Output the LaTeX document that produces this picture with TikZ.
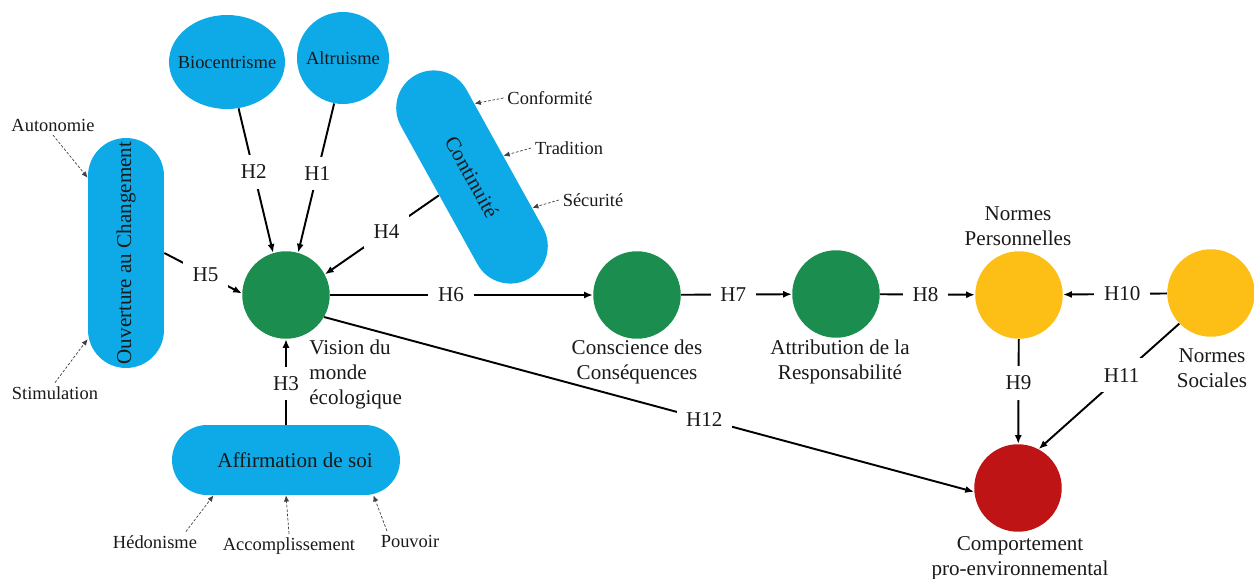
\documentclass[tikz,border=0pt]{standalone}
\usepackage{fontspec}
\setmainfont{Liberation Serif}
\usepackage{color}
\usepackage{tikz}
\usetikzlibrary{arrows.meta,shapes.geometric}
\definecolor{bleu}{RGB}{14,170,231}
\definecolor{vert}{RGB}{26,141,79}
\definecolor{jaune}{RGB}{253,190,22}
\definecolor{rouge}{RGB}{190,20,22}

\begin{document}
\begin{tikzpicture}[x=0.02cm,y=-0.02cm]
      \tikzstyle{every node}=[font=\fontsize{12}{14.2}\selectfont,text=black!90]
      \tikzstyle{blob}=[shape=ellipse,fill=bleu,inner sep=0pt,font=\fontsize{10.5}{12}\selectfont]
      \tikzstyle{stade}=[shape=rectangle,fill=bleu,inner sep=0pt]
      \tikzstyle{rond}=[shape=circle,minimum size=1.75cm,inner sep=0pt]
      \tikzstyle{hyp}=[fill=white,inner sep=5.5pt]
      \tikzstyle{val}=[font=\fontsize{10.5}{12}\selectfont,inner sep=2pt]
      \tikzstyle{lbl}=[align=center,inner sep=0pt]
      \tikzstyle{hfl}=[-{Latex[length=5pt,width=4pt]},line width=1.1pt]
      \tikzstyle{pointil}=[-{Latex[length=3.5pt,width=3pt]},line width=0.4pt,dash pattern=on 1.5pt off 1pt,black!75]
      \useasboundingbox (0,0) rectangle (1254,578);

      \node[blob,minimum width=2.32cm,minimum height=1.88cm] (bio) at (227,62) {\makebox[0pt]{Biocentrisme}};
      \node[blob,minimum size=1.84cm] (alt) at (343,58) {\makebox[0pt]{Altruisme}};
      \node[stade,rounded corners=0.76cm,minimum width=4.6cm,minimum height=1.52cm,rotate=90] (ouv) at (126,253) {Ouverture au Changement};
      \node[stade,rounded corners=0.75cm,minimum width=4.66cm,minimum height=1.5cm,rotate=-61] (cont) at (472,177) {Continuité};
      \node[stade,rounded corners=0.7cm,minimum width=4.56cm,minimum height=1.4cm] (aff) at (286,460) {\hspace{0.36cm}Affirmation de soi};

      \node[rond,fill=vert] (vis) at (286,295) {};
      \node[rond,fill=vert] (con) at (637,295) {};
      \node[rond,fill=vert] (att) at (836,294) {};
      \node[rond,fill=jaune] (np) at (1019,295) {};
      \node[rond,fill=jaune] (ns) at (1211,293) {};
      \node[rond,fill=rouge] (comp) at (1018,488) {};

      \node[lbl,anchor=north west,align=left] (visl) at (309,340) {Vision du\\monde\\écologique};
      \node[lbl] (conl) at (637,362) {Conscience des\\Conséquences};
      \node[lbl] (attl) at (840,362) {Attribution de la\\Responsabilité};
      \node[lbl] (npl) at (1018,226) {Normes\\Personnelles};
      \node[lbl] (nsl) at (1212,368) {Normes\\Sociales};
      \node[lbl] (compl) at (1020,558) {Comportement\\pro-environnemental};

      \node[val] (auto) at (53,125) {Autonomie};
      \node[val] (stim) at (55,393) {Stimulation};
      \node[val] (conf) at (550,98) {Conformité};
      \node[val] (trad) at (569,148) {Tradition};
      \node[val] (secu) at (593,200) {Sécurité};
      \node[val] (hedo) at (155,542) {Hédonisme};
      \node[val] (acco) at (289,546) {Accomplissement};
      \node[val] (pouv) at (410,541) {Pouvoir};

      \draw[pointil] (auto.south) -- (ouv.27);
      \draw[pointil] (stim.north) -- (ouv.156);
      \draw[pointil] (conf.west) -- (cont.149);
      \draw[pointil] (trad.west) -- (cont.95);
      \draw[pointil] (secu.west) -- (cont.34);
      \draw[pointil] ([xshift=-0.3cm]hedo.north east) -- (aff.206);
      \draw[pointil] (acco.north) -- (aff.south);
      \draw[pointil] ([xshift=0.2cm]pouv.north west) -- (aff.-22);

      \draw[hfl] (bio.-76) -- node[hyp,pos=.44] {H2} (vis.107);
      \draw[hfl] (alt.259) -- node[hyp,pos=.47] {H1} (vis.74);
      \draw[hfl] (cont.south) -- node[hyp,pos=.46] {H4} (vis.28);
      \draw[hfl] (ouv.south) -- node[hyp,pos=.53] {H5} (vis.178);
      \draw[hfl] (aff.north) -- node[hyp,pos=.48,inner xsep=2pt] {H3} (vis.south);

      \draw[hfl] (vis) -- node[hyp,pos=.46] {H6} (con);
      \draw[hfl] (con) -- node[hyp,pos=.47] {H7} (att);
      \draw[hfl] (att) -- node[hyp,pos=.48] {H8} (np);
      \draw[hfl] (ns) -- node[hyp,pos=.43] {H10} (np);
      \draw[hfl] (np) -- node[hyp,pos=.42] {H9} (comp);
      \draw[hfl] (ns.224) -- node[hyp,pos=.41] {H11} (comp.62);
      \draw[hfl] (vis.-30) -- node[hyp,pos=.585] {H12} (comp.185);
    \end{tikzpicture}
\end{document}
